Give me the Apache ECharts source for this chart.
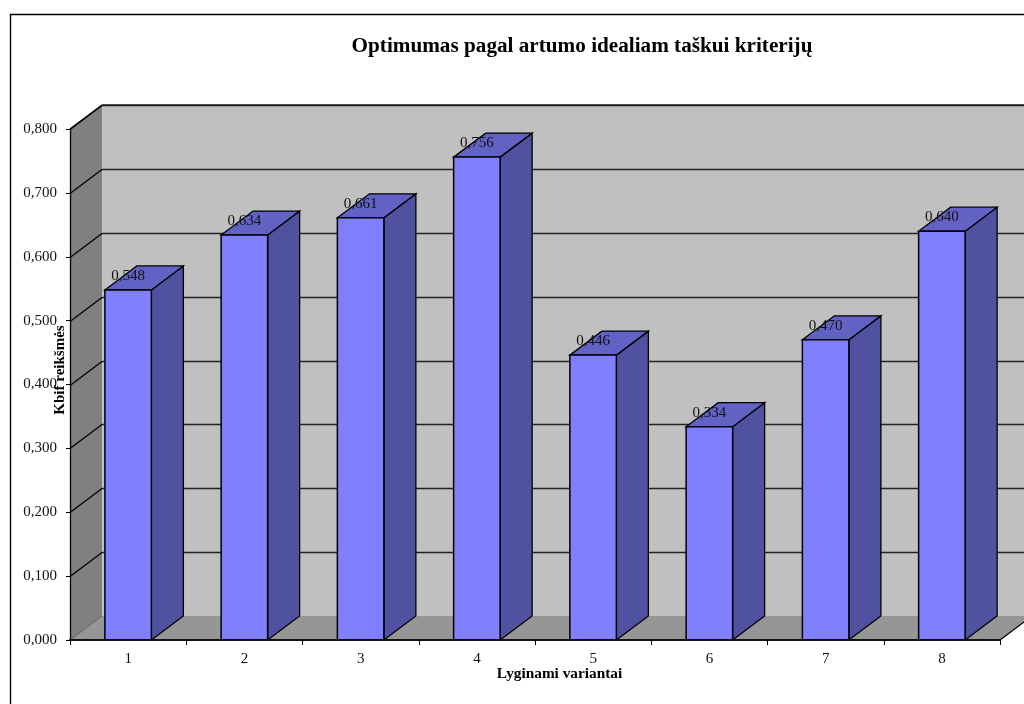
<!DOCTYPE html>
<html>
<head>
<meta charset="utf-8">
<style>html,body{margin:0;padding:0;background:#fff}#chart{width:1024px;height:704px}</style>
<script src="https://cdn.jsdelivr.net/npm/echarts@6/dist/echarts.min.js"></script>
</head>
<body>
<div id="chart"></div>
<script>
// Optimum by closeness to the ideal point, one box per compared variant
const categories = ['1', '2', '3', '4', '5', '6', '7', '8'];
const kbifValues = [0.548, 0.634, 0.661, 0.756, 0.446, 0.334, 0.470, 0.640];
const valueLabels = ['0,548', '0,634', '0,661', '0,756', '0,446', '0,334', '0,470', '0,640'];
const gridValues = [0.1, 0.2, 0.3, 0.4, 0.5, 0.6, 0.7, 0.8];

const titleText = 'Optimumas pagal artumo idealiam taškui kriterijų';
const yAxisTitle = 'Kbif reikšmės';
const xAxisTitle = 'Lyginami variantai';

const SERIF = '"Liberation Serif", "Times New Roman", serif';
const DEPTH_X = 32, DEPTH_Y = -24;
const BAR_RATIO = 0.4;
const INK = '#000';

const chart = echarts.init(document.getElementById('chart'), null, { renderer: 'canvas' });

const poly = (points, fill, z2, stroke, lineWidth) => ({
  type: 'polygon',
  z2: z2 || 0,
  shape: { points },
  style: { fill, stroke: stroke || 'none', lineWidth: lineWidth || 0 }
});
const line = (a, b, w, z2, color) => ({
  type: 'line',
  z2: z2 || 0,
  shape: { x1: a[0], y1: a[1], x2: b[0], y2: b[1] },
  style: { stroke: color || INK, lineWidth: w }
});

// Back wall, side wall and floor of the 3D box
function renderWalls(params, api) {
  if (params.dataIndex !== 0) return null;
  const cs = params.coordSys;
  const l = cs.x, r = cs.x + cs.width, t = cs.y, b = cs.y + cs.height;
  const dx = DEPTH_X, dy = DEPTH_Y;
  return {
    type: 'group',
    children: [
      poly([[l + dx, t + dy], [r + dx, t + dy], [r + dx, b + dy], [l + dx, b + dy]], '#c0c0c0'),
      poly([[l, t], [l + dx, t + dy], [l + dx, b + dy], [l, b]], '#808080'),
      poly([[l, b], [l + dx, b + dy], [r + dx, b + dy], [r, b]], '#969696'),
      line([l, t], [l + dx, t + dy], 1.3, 1),
      line([l + dx, t + dy], [r + dx, t + dy], 1.7, 1, '#222'),
      line([r, b], [r + dx, b + dy], 1.3, 1),
      line([l, b], [l + dx, b + dy], 1, 1, '#5c5c5c')
    ]
  };
}

// One grid line running along the side wall and across the back wall
function renderGrid(params, api) {
  const p = api.coord([0, api.value(0)]);
  const cs = params.coordSys;
  const y = Math.round(p[1]) + 0.5;
  const back = [cs.x + DEPTH_X, y + DEPTH_Y];
  return {
    type: 'group',
    children: [
      line([cs.x, y], back, 1.3, 2),
      line(back, [cs.x + cs.width + DEPTH_X, y + DEPTH_Y], 1.7, 2, '#222')
    ]
  };
}

// A bar as a front face, a right-hand face and a top face
function renderBar(params, api) {
  const idx = api.value(0);
  const top = api.coord([idx, api.value(1)]);
  const base = api.coord([idx, 0]);
  const w = api.size([1, 0])[0] * BAR_RATIO;
  const l = top[0] - w / 2, r = top[0] + w / 2;
  const t = top[1], b = base[1];
  const dx = DEPTH_X, dy = DEPTH_Y;
  return {
    type: 'group',
    children: [
      poly([[r, t], [r + dx, t + dy], [r + dx, b + dy], [r, b]], '#5151a2', 3, INK, 1.3),
      poly([[l, t], [l + dx, t + dy], [r + dx, t + dy], [r, t]], '#6262c4', 3, INK, 1.3),
      poly([[l, t], [r, t], [r, b], [l, b]], '#8080ff', 4, INK, 1.5)
    ]
  };
}

// Value text sits on top of the bar's upper face
function renderLabel(params, api) {
  const p = api.coord([api.value(0), api.value(1)]);
  return {
    type: 'text',
    z2: 10,
    style: {
      x: p[0],
      y: p[1] - 14,
      text: valueLabels[params.dataIndex],
      fill: '#111',
      font: '15px ' + SERIF,
      textAlign: 'center',
      textVerticalAlign: 'middle'
    }
  };
}

chart.setOption({
  animation: false,
  backgroundColor: '#fff',
  grid: { left: 70, right: 24, top: 129, bottom: 64, containLabel: false },
  title: {
    text: titleText,
    left: 577,
    top: 31,
    textAlign: 'center',
    textStyle: { fontFamily: SERIF, fontSize: 21.2, fontWeight: 'bold', color: '#000' }
  },
  graphic: [
    {
      type: 'rect',
      silent: true,
      shape: { x: 10.5, y: 14.5, width: 1200, height: 900 },
      style: { fill: 'none', stroke: '#000', lineWidth: 1.4 }
    },
    {
      type: 'text',
      silent: true,
      z: 20,
      x: 60, y: 370,
      rotation: Math.PI / 2,
      style: {
        text: yAxisTitle,
        fill: '#000',
        font: 'bold 15px ' + SERIF,
        textAlign: 'center',
        textVerticalAlign: 'middle'
      }
    },
    {
      type: 'text',
      silent: true,
      z: 20,
      x: 559.5, y: 674,
      style: {
        text: xAxisTitle,
        fill: '#000',
        font: 'bold 15.3px ' + SERIF,
        textAlign: 'center',
        textVerticalAlign: 'middle'
      }
    }
  ],
  xAxis: {
    type: 'category',
    data: categories,
    boundaryGap: true,
    axisLine: { show: true, lineStyle: { color: '#111', width: 2 } },
    axisTick: { show: true, alignWithLabel: false, length: 5, lineStyle: { color: INK, width: 1 } },
    axisLabel: { color: '#111', fontFamily: SERIF, fontSize: 15, margin: 12 },
    z: 8
  },
  yAxis: {
    type: 'value',
    min: 0,
    max: 0.8,
    interval: 0.1,
    splitLine: { show: false },
    axisLine: { show: true, lineStyle: { color: INK, width: 1.3 } },
    axisTick: { show: true, length: 4, lineStyle: { color: INK, width: 1 } },
    axisLabel: {
      color: '#111',
      fontFamily: SERIF,
      fontSize: 15,
      margin: 13,
      formatter: v => v.toFixed(3).replace('.', ',')
    },
    z: 8
  },
  series: [
    { type: 'custom', name: 'walls', coordinateSystem: 'cartesian2d', clip: false, silent: true, z: 1,
      renderItem: renderWalls, data: [[0, 0]], encode: { x: 0, y: 1 } },
    { type: 'custom', name: 'grid', coordinateSystem: 'cartesian2d', clip: false, silent: true, z: 2,
      renderItem: renderGrid, data: gridValues.map(v => [v]), encode: { y: 0 } },
    { type: 'custom', name: 'Kbif', coordinateSystem: 'cartesian2d', clip: false, silent: true, z: 3,
      renderItem: renderBar, data: kbifValues.map((v, i) => [i, v]), encode: { x: 0, y: 1 } },
    { type: 'custom', name: 'labels', coordinateSystem: 'cartesian2d', clip: false, silent: true, z: 9,
      renderItem: renderLabel, data: kbifValues.map((v, i) => [i, v]), encode: { x: 0, y: 1 } }
  ]
});
</script>
</body>
</html>
